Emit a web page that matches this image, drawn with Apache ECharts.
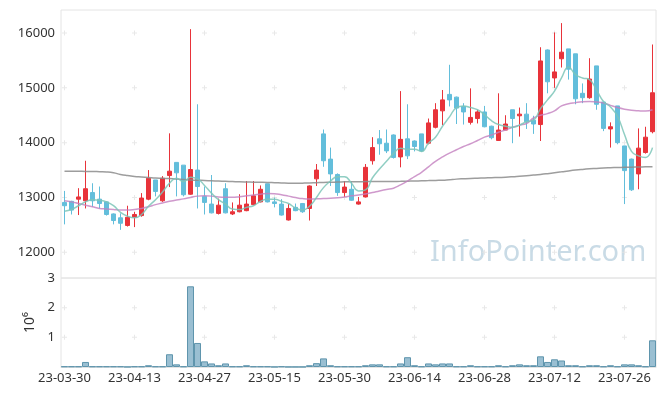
<!DOCTYPE html>
<html><head><meta charset="utf-8">
<script src="https://cdn.jsdelivr.net/npm/echarts@6/dist/echarts.min.js"></script>
<style>html,body{margin:0;padding:0;background:#fff}#c{width:665px;height:396px}</style>
</head><body><div id="c"></div><script>
const dates = ['23-03-30','23-03-31','23-04-03','23-04-04','23-04-05','23-04-06','23-04-07','23-04-10','23-04-11','23-04-12',
'23-04-13','23-04-14','23-04-17','23-04-18','23-04-19','23-04-20','23-04-21','23-04-24','23-04-25','23-04-26',
'23-04-27','23-04-28','23-05-02','23-05-03','23-05-04','23-05-08','23-05-09','23-05-10','23-05-11','23-05-12',
'23-05-15','23-05-16','23-05-17','23-05-18','23-05-19','23-05-22','23-05-23','23-05-24','23-05-25','23-05-26',
'23-05-30','23-05-31','23-06-01','23-06-02','23-06-05','23-06-07','23-06-08','23-06-09','23-06-12','23-06-13',
'23-06-14','23-06-15','23-06-16','23-06-19','23-06-20','23-06-21','23-06-22','23-06-23','23-06-26','23-06-27',
'23-06-28','23-06-29','23-06-30','23-07-03','23-07-04','23-07-05','23-07-06','23-07-07','23-07-10','23-07-11',
'23-07-12','23-07-13','23-07-14','23-07-17','23-07-18','23-07-19','23-07-20','23-07-21','23-07-24','23-07-25',
'23-07-26','23-07-27','23-07-28','23-07-31','23-08-01'];
const opens = [12910,12930,12970,12940,13090,12970,12920,12700,12630,12490,
12640,12670,12970,13320,12940,13400,13640,13590,13060,13500,
13020,12880,12710,13160,12700,12740,12760,12870,12920,13250,
12920,12880,12590,12820,12890,12800,13340,14160,13700,13420,
13090,13150,12880,13010,13670,14070,13990,14140,13740,14070,
14030,14160,13990,14280,14580,14880,14830,14660,14370,14440,
14560,14300,14040,14230,14600,14490,14520,14410,14330,15690,
15180,15530,15710,15620,14900,14820,15400,14740,14250,14670,
13940,13700,13430,13820,14200];
const closes = [12850,12770,13010,13160,12940,12890,12690,12580,12530,12640,
12690,12990,13350,13110,13350,13480,13450,13050,13510,13200,
12910,12720,12860,12720,12740,12860,12880,13030,13150,12920,
12890,12680,12800,12760,12740,13210,13500,13670,13430,13090,
13190,12950,12920,13550,13910,13980,13850,13730,14060,13760,
13930,13850,14360,14600,14780,14780,14630,14560,14460,14560,
14290,14090,14230,14340,14440,14520,14380,14340,15490,15110,
15290,15650,15340,14800,14820,15160,14700,14260,14290,14000,
13490,13140,13900,14100,14910];
const lows = [12510,12690,12680,12800,12830,12800,12670,12510,12410,12470,
12460,12650,12950,13020,12920,13190,13020,13020,13050,12800,
12690,12710,12690,12710,12680,12730,12750,12860,12910,12910,
12820,12670,12580,12750,12720,12580,13210,13560,13210,13030,
13010,12940,12870,13000,13600,13780,13810,13710,13550,13700,
13840,13830,13970,14260,14320,14660,14340,14330,14330,14350,
14280,14060,14030,14230,13990,14110,14250,14160,14030,14900,
15000,15370,15150,14700,14720,14800,14600,14210,13910,13970,
12880,13120,13150,13800,14170];
const highs = [13120,12940,13170,13670,13260,13200,12930,12710,12710,12850,
12740,13080,13500,13320,13390,14170,13640,13590,16070,14700,
13200,13410,12980,13260,12910,13060,13300,13300,13220,13250,
13000,12970,12880,12890,12900,13220,13610,14240,13910,13440,
13300,13290,13010,13610,14100,14230,14240,14150,14940,14700,
14040,14160,14440,14720,14960,15420,14840,14720,14990,14600,
14670,14310,14900,14500,14600,14640,14720,14490,15740,15700,
16010,16180,15710,15620,15080,15540,15400,14740,14370,14670,
13940,13710,14260,14290,15790];
const ma5 = [12750,12780,12850,12920,12960,12950,12920,12850,12730,12660,
12630,12690,12840,12960,13100,13260,13350,13290,13370,13340,
13220,13080,12960,12880,12790,12780,12820,12850,12930,12970,
12970,12930,12890,12810,12770,12840,13000,13180,13300,13380,
13380,13260,13120,13140,13360,13520,13660,13800,13900,13880,
13880,13840,13990,14100,14300,14470,14640,14670,14640,14600,
14510,14400,14330,14300,14280,14320,14380,14410,14620,14780,
14940,15180,15380,15240,15180,15150,14960,14750,14650,14480,
14150,13840,13760,13730,13910];
const ma20 = [12940,12920,12890,12860,12830,12800,12790,12780,12770,12770,
12780,12800,12830,12870,12900,12930,12955,12975,13000,13025,
13030,13025,13010,13005,13005,13015,13030,13045,13060,13075,
13070,13050,13025,13000,12980,12972,12975,12980,12985,12995,
13010,13030,13045,13065,13090,13120,13145,13170,13230,13300,
13380,13460,13560,13660,13740,13810,13870,13930,13980,14040,
14100,14140,14190,14230,14280,14320,14350,14450,14500,14530,
14580,14670,14710,14730,14745,14750,14740,14725,14680,14640,
14610,14590,14580,14575,14600];
const ma60 = [13480,13480,13480,13475,13475,13470,13465,13450,13420,13400,
13385,13375,13365,13355,13350,13345,13335,13330,13320,13315,
13310,13305,13300,13295,13290,13285,13282,13280,13278,13275,
13270,13265,13260,13260,13262,13265,13270,13275,13278,13282,
13285,13288,13288,13290,13290,13290,13292,13293,13295,13298,
13300,13305,13308,13312,13315,13325,13335,13342,13348,13352,
13356,13360,13365,13370,13378,13388,13398,13408,13420,13435,
13452,13468,13485,13500,13512,13522,13530,13538,13543,13547,
13550,13553,13556,13559,13562];
// volume in units of 10^6
const volumes = [0.02,0.02,0.02,0.17,0.02,0.02,0.02,0.02,0.02,0.005,
0.02,0.02,0.06,0.02,0.02,0.43,0.09,0.02,2.72,0.81,
0.19,0.12,0.06,0.12,0.02,0.02,0.06,0.02,0.02,0.02,
0.005,0.02,0.005,0.005,0.005,0.06,0.13,0.29,0.06,0.02,
0.02,0.02,0.02,0.06,0.09,0.09,0.02,0.02,0.12,0.33,
0.06,0.02,0.12,0.09,0.12,0.12,0.02,0.02,0.06,0.02,
0.02,0.02,0.06,0.02,0.06,0.09,0.06,0.06,0.36,0.17,
0.26,0.22,0.06,0.06,0.02,0.06,0.06,0.02,0.06,0.02,
0.09,0.09,0.06,0.02,0.90];
const priceTicks = [12000,13000,14000,15000,16000];
const volumeTicks = [1,2,3];
const labelStep = 10;

const candleData = dates.map((d,i)=>[opens[i],closes[i],lows[i],highs[i]]);
const tickDates = dates.filter((d,i)=>i%labelStep===0);
const crossPrice = [];
tickDates.forEach(d=>priceTicks.forEach(v=>crossPrice.push([d,v])));
const crossVol = [];
tickDates.forEach(d=>volumeTicks.slice(0,2).forEach(v=>crossVol.push([d,v])));

const FONT = 'Noto Sans';
const plus = 'path://M2,0H3V2H5V3H3V5H2V3H0V2H2Z';
const chart = echarts.init(document.getElementById('c'));
chart.setOption({
  animation:false,
  backgroundColor:'#ffffff',
  textStyle:{fontFamily:FONT},
  grid:[
    {left:61,right:9,top:10,height:268,show:true,borderColor:'#e4e4e4',borderWidth:1,backgroundColor:'transparent'},
    {left:61,right:9,top:278,height:89,show:true,borderColor:'#e4e4e4',borderWidth:1,backgroundColor:'transparent'}
  ],
  graphic:[{type:'text',left:430,top:238,z:-10,silent:true,
    style:{text:'InfoPointer.com',fill:'#c9dbe6',font:'29px "Noto Sans"'}}],
  xAxis:[
    {type:'category',data:dates,gridIndex:0,boundaryGap:true,axisLine:{show:false},axisTick:{show:false},axisLabel:{show:false},splitLine:{show:false}},
    {type:'category',data:dates,gridIndex:1,boundaryGap:true,axisLine:{show:true,lineStyle:{color:'#e4e4e4'}},axisTick:{show:false},
      axisLabel:{interval:labelStep-1,color:'#333',fontSize:13,fontFamily:FONT,margin:5},splitLine:{show:false}}
  ],
  yAxis:[
    {type:'value',gridIndex:0,min:11532,max:16419,scale:true,axisLine:{show:false},axisTick:{show:false},splitLine:{show:false},
      axisLabel:{customValues:priceTicks,color:'#333',fontSize:13,fontFamily:FONT,margin:6,formatter:v=>String(v)}},
    {type:'value',gridIndex:1,min:0,max:3,interval:1,axisLine:{show:false},axisTick:{show:false},splitLine:{show:false},
      axisLabel:{color:'#333',fontSize:13,fontFamily:FONT,margin:6,formatter:v=>v===0?'':String(v)},
      name:'10\u2076',nameLocation:'middle',nameRotate:90,nameGap:22,nameTextStyle:{color:'#333',fontSize:14,fontFamily:FONT}}
  ],
  series:[
    {type:'scatter',xAxisIndex:0,yAxisIndex:0,data:crossPrice,symbol:plus,symbolSize:5,itemStyle:{color:'#e2e2e2'},silent:true,z:1},
    {type:'scatter',xAxisIndex:1,yAxisIndex:1,data:crossVol,symbol:plus,symbolSize:5,itemStyle:{color:'#e2e2e2'},silent:true,z:1},
    {type:'candlestick',xAxisIndex:0,yAxisIndex:0,data:candleData,barWidth:5,z:2,
      itemStyle:{color:'#e8333a',color0:'#63bedb',borderColor:'#e8333a',borderColor0:'#63bedb',borderWidth:1}},
    {type:'line',xAxisIndex:0,yAxisIndex:0,data:ma60,smooth:true,showSymbol:false,z:3,lineStyle:{color:'#8c8c8c',width:1.5,opacity:0.85}},
    {type:'line',xAxisIndex:0,yAxisIndex:0,data:ma20,smooth:true,showSymbol:false,z:3,lineStyle:{color:'#c37fbf',width:1.5,opacity:0.8}},
    {type:'line',xAxisIndex:0,yAxisIndex:0,data:ma5,smooth:true,showSymbol:false,z:3,lineStyle:{color:'#7cc5b9',width:1.5,opacity:0.85}},
    {type:'bar',xAxisIndex:1,yAxisIndex:1,data:volumes,barCategoryGap:'0%',z:2,
      itemStyle:{color:'rgba(120,170,195,0.75)',borderColor:'#5f95ad',borderWidth:1}}
  ]
});
</script></body></html>
